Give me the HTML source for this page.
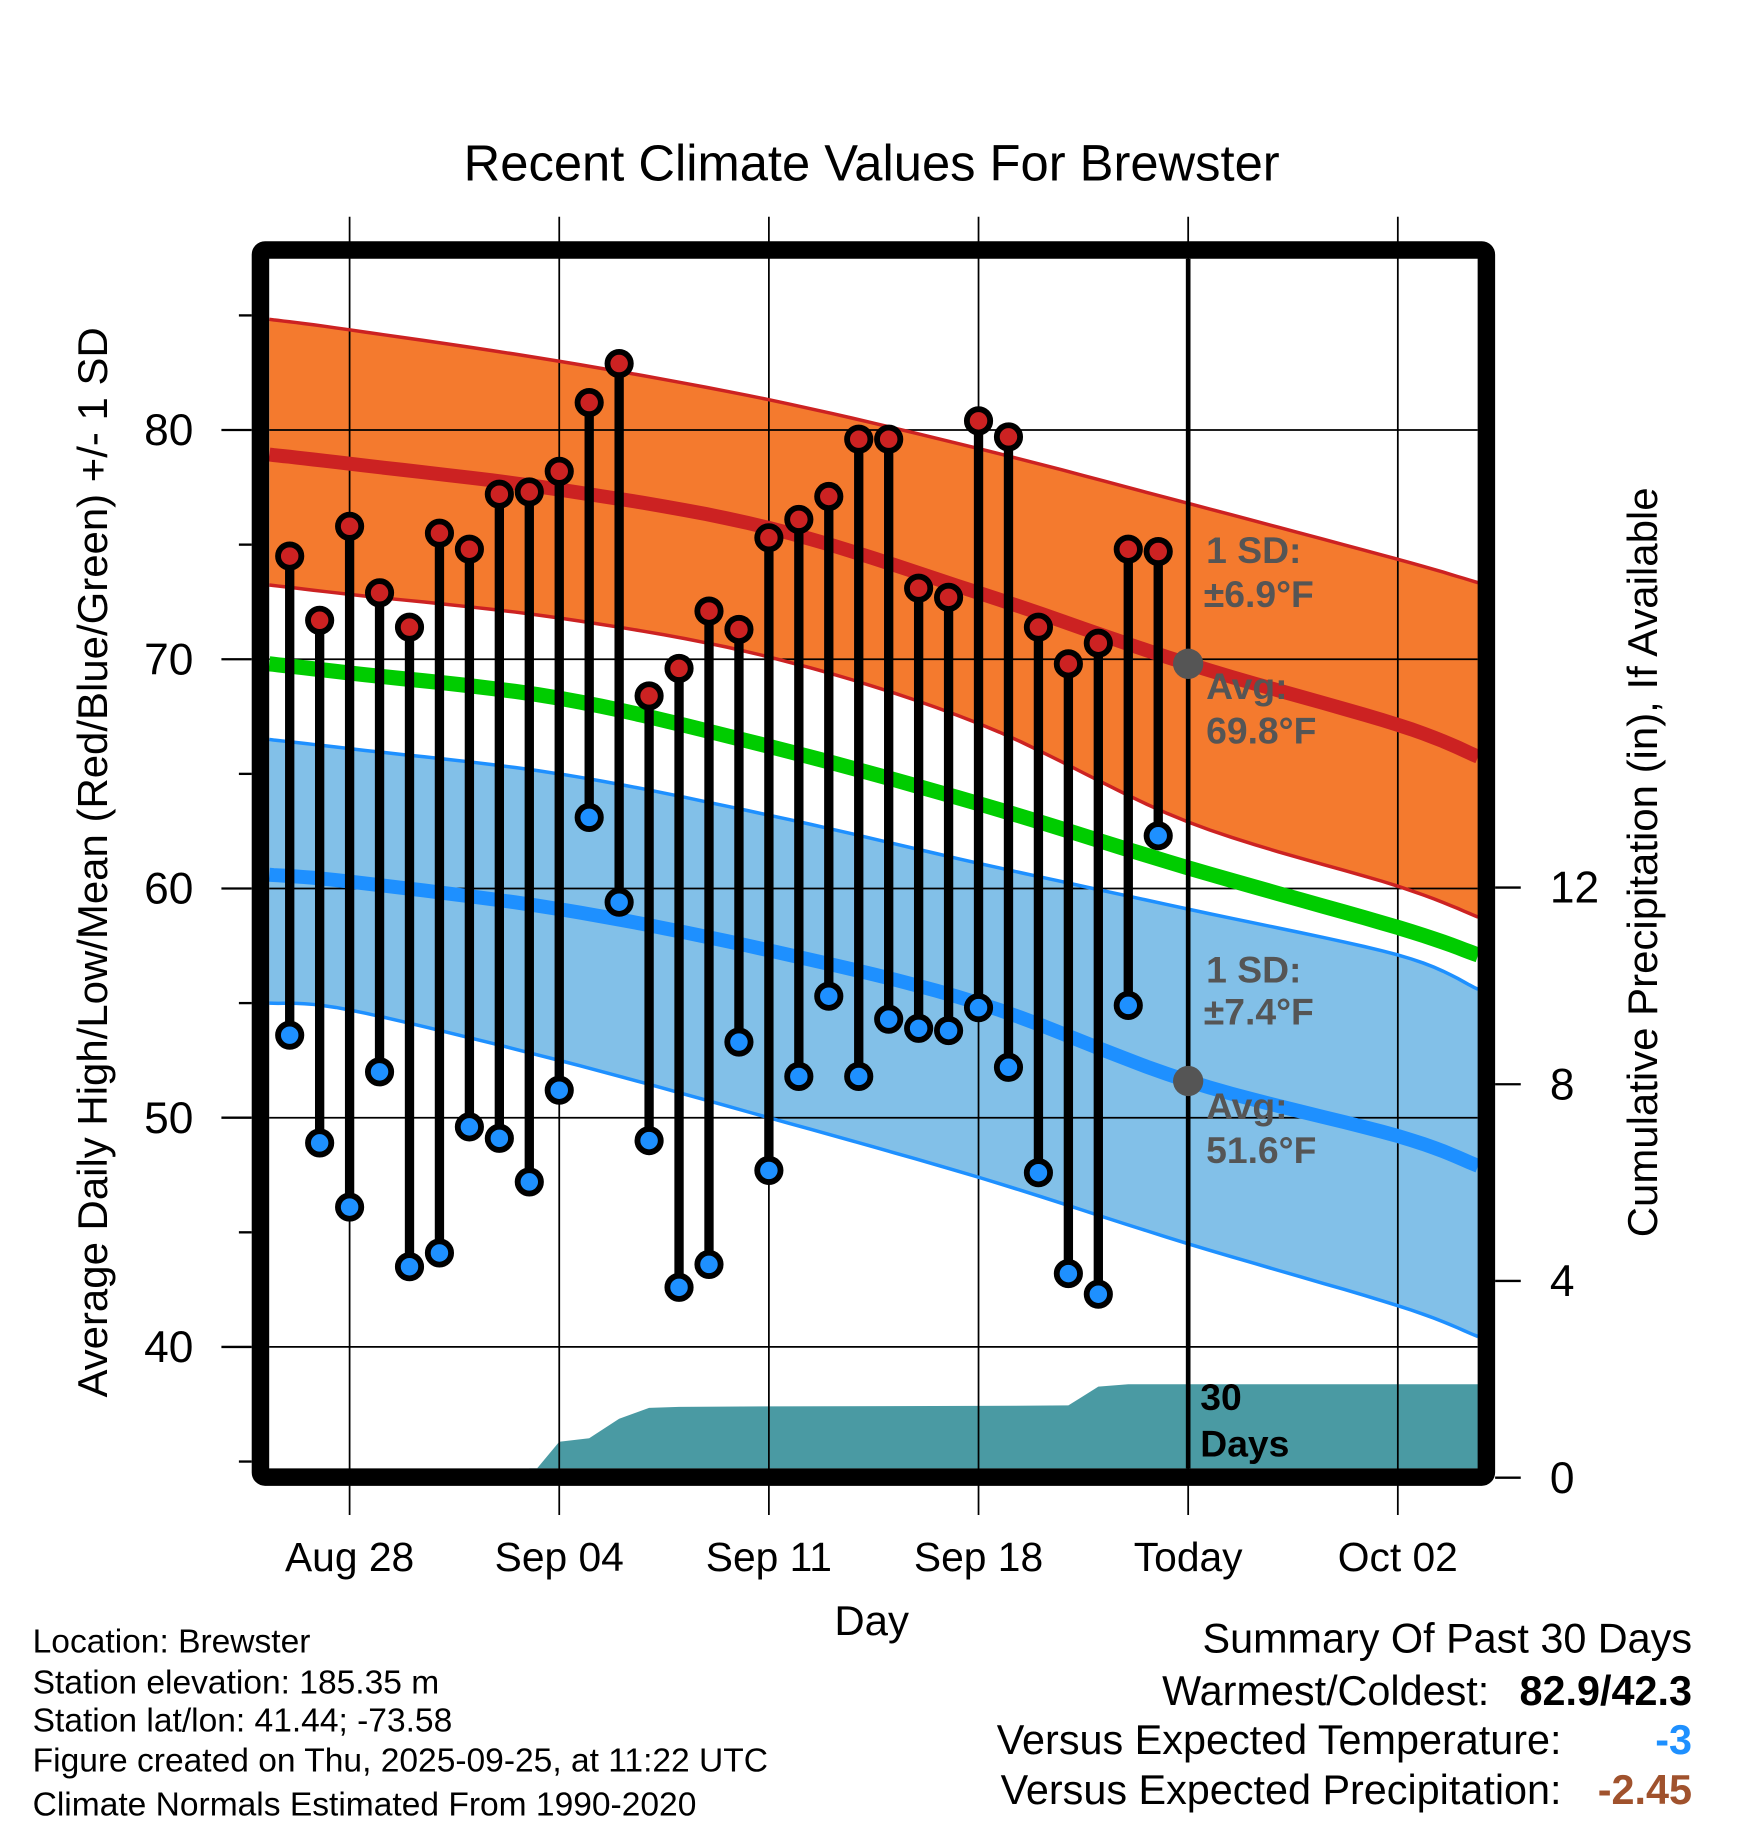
<!DOCTYPE html>
<html><head><meta charset="utf-8"><style>
html,body{margin:0;padding:0;background:#fff;}
svg{display:block;font-family:"Liberation Sans",sans-serif;}
</style></head><body>
<svg id="chart" width="1748" height="1828" viewBox="0 0 1500 1568.6" preserveAspectRatio="none" xmlns="http://www.w3.org/2000/svg">
<text x="748" y="155" font-size="43.5" text-anchor="middle">Recent Climate Values For Brewster</text>
<g id="fills"></g><g id="grid"></g><g id="lines"></g><g id="marks"></g><g id="ann"></g>
<rect x="223.5" y="214.5" width="1052" height="1053" fill="none" stroke="#000" stroke-width="15" rx="4"/>
<g id="axes"></g>
<text x="748" y="1403" font-size="36" text-anchor="middle">Day</text>
<text transform="translate(92,740) rotate(-90)" font-size="36" text-anchor="middle">Average Daily High/Low/Mean (Red/Blue/Green) +/- 1 SD</text>
<text transform="translate(1422,740) rotate(-90)" font-size="36" text-anchor="middle">Cumulative Precipitation (in), If Available</text>
<g font-size="28.8">
<text x="28" y="1418">Location: Brewster</text>
<text x="28" y="1453">Station elevation: 185.35 m</text>
<text x="28" y="1486">Station lat/lon: 41.44; -73.58</text>
<text x="28" y="1520">Figure created on Thu, 2025-09-25, at 11:22 UTC</text>
<text x="28" y="1558">Climate Normals Estimated From 1990-2020</text>
</g>
<g font-size="35.5">
<text x="1452" y="1418" text-anchor="end">Summary Of Past 30 Days</text>
<text x="1278" y="1463" text-anchor="end">Warmest/Coldest:</text>
<text x="1452" y="1463" text-anchor="end" font-weight="bold">82.9/42.3</text>
<text x="1340" y="1505" text-anchor="end">Versus Expected Temperature:</text>
<text x="1452" y="1505" text-anchor="end" font-weight="bold" fill="#1e90ff">-3</text>
<text x="1340" y="1548" text-anchor="end">Versus Expected Precipitation:</text>
<text x="1452" y="1548" text-anchor="end" font-weight="bold" fill="#a0522d">-2.45</text>
</g>
</svg>
<script>
// Days are offsets from Aug 28
const normDays = [-2.68, 0, 7, 14, 21, 28, 35, 37.68];
const highUpper = [84.83, 84.37, 83.0, 81.32, 79.19, 76.8, 74.36, 73.34];
const highMean  = [78.93, 78.53, 77.4, 75.73, 72.9, 69.8, 67.14, 65.75];
const highLower = [73.24, 72.83, 71.8, 70.1, 67.2, 62.9, 60.1, 58.75];
const meanTemp  = [69.8, 69.4, 68.3, 66.2, 63.7, 60.9, 58.3, 57.1];
const lowUpper  = [66.5, 66.1, 65.0, 63.2, 61.1, 59.1, 57.1, 55.6];
const lowMean   = [60.6, 60.3, 59.1, 57.3, 55.0, 51.6, 49.2, 47.9];
const lowLower  = [55.0, 54.7, 52.5, 50.0, 47.4, 44.5, 41.8, 40.45];
const obsDays = [-2,-1,0,1,2,3,4,5,6,7,8,9,10,11,12,13,14,15,16,17,18,19,20,21,22,23,24,25,26,27];
const obsHigh = [74.5,71.7,75.8,72.9,71.4,75.5,74.8,77.2,77.3,78.2,81.2,82.9,68.4,69.6,72.1,71.3,75.3,76.1,77.1,79.6,79.6,73.1,72.7,80.4,79.7,71.4,69.8,70.7,74.8,74.7];
const obsLow  = [53.6,48.9,46.1,52.0,43.5,44.1,49.6,49.1,47.2,51.2,63.1,59.4,49.0,42.6,43.6,53.3,47.7,51.8,55.3,51.8,54.3,53.9,53.8,54.8,52.2,47.6,43.2,42.3,54.9,62.3];
const precipDays = [6,7,8,9,10,11,14,21,24,25,26,27,37.68];
const precipCum  = [0,0.73,0.8,1.2,1.42,1.44,1.45,1.46,1.47,1.85,1.9,1.9,1.9];
const xTickDays = [0,7,14,21,28,35];
const xTickLabels = ["Aug 28","Sep 04","Sep 11","Sep 18","Today","Oct 02"];
const yTicks = [40,50,60,70,80];
const yMinor = [35,45,55,65,75,85];
const y2Ticks = [0,4,8,12];

const NS="http://www.w3.org/2000/svg";
const X0=231,X1=1268,Y0=222,Y1=1260;
const xs=d=>300+d*25.7;
const ys=v=>369-(v-80)*19.67;
const yp=p=>1268-p*42.2;
function mk(tag,attrs,parent){const e=document.createElementNS(NS,tag);for(const k in attrs)e.setAttribute(k,attrs[k]);document.getElementById(parent).appendChild(e);return e;}
function pts(days,vals,f){return days.map((d,i)=>xs(d).toFixed(1)+","+f(vals[i]).toFixed(1));}
// smooth curve sampling (Catmull-Rom through data points)
function smooth(days,vals){
 const P=days.map((d,i)=>[xs(d),ys(vals[i])]);const out=[];
 for(let i=0;i<P.length-1;i++){
  const p0=P[Math.max(0,i-1)],p1=P[i],p2=P[i+1],p3=P[Math.min(P.length-1,i+2)];
  for(let t=0;t<1;t+=0.1){const t2=t*t,t3=t2*t;
   const c=k=>0.5*((2*p1[k])+(-p0[k]+p2[k])*t+(2*p0[k]-5*p1[k]+4*p2[k]-p3[k])*t2+(-p0[k]+3*p1[k]-3*p2[k]+p3[k])*t3);
   out.push(c(0).toFixed(1)+","+c(1).toFixed(1));}
 }
 const L=P[P.length-1];out.push(L[0].toFixed(1)+","+L[1].toFixed(1));return out;
}

let e;
e=mk('polygon',{points:smooth(normDays,highUpper).concat(smooth(normDays,highLower).reverse()).join(' '),fill:'#f47a2e'},'fills');


e=mk('polygon',{points:smooth(normDays,lowUpper).concat(smooth(normDays,lowLower).reverse()).join(' '),fill:'#82c0e8'},'fills');


const pp=pts(precipDays,precipCum,yp);
e=mk('polygon',{points:[xs(precipDays[0]).toFixed(1)+","+Y1].concat(pp).concat([xs(precipDays[precipDays.length-1]).toFixed(1)+","+Y1]).join(' '),fill:'#4a9aa3'},'fills');



yTicks.forEach(v=>{e=mk('line',{x1:X0,x2:X1,y1:ys(v),y2:ys(v),stroke:'#000','stroke-width':1.5},'grid');

});
xTickDays.forEach(d=>{e=mk('line',{x1:xs(d),x2:xs(d),y1:186,y2:1300,stroke:'#000','stroke-width':1.5},'grid');

});

function pl(vals,color,w,name){e=mk('polyline',{points:smooth(normDays,vals).join(' '),fill:'none',stroke:color,'stroke-width':w},'lines');

}
pl(highUpper,'#cc2222',3,'high-upper-line');
pl(highLower,'#cc2222',3,'high-lower-line');
pl(highMean,'#cc2222',12,'high-mean-line');
pl(meanTemp,'#00cc00',13,'mean-temp-line');
pl(lowUpper,'#1e90ff',3,'low-upper-line');
pl(lowLower,'#1e90ff',3,'low-lower-line');
pl(lowMean,'#1e90ff',12,'low-mean-line');
e=mk('line',{x1:xs(28),x2:xs(28),y1:Y0,y2:Y1,stroke:'#000','stroke-width':4},'lines');



obsDays.forEach((d,i)=>{
 const x=xs(d);
 e=mk('line',{x1:x,x2:x,y1:ys(obsHigh[i]),y2:ys(obsLow[i]),stroke:'#000','stroke-width':8},'marks');
 
 
 e=mk('circle',{cx:x,cy:ys(obsHigh[i]),r:10,fill:'#cc2222',stroke:'#000','stroke-width':5},'marks');
 
 
 e=mk('circle',{cx:x,cy:ys(obsLow[i]),r:10,fill:'#1e90ff',stroke:'#000','stroke-width':5},'marks');
 
 
});

e=mk('circle',{cx:xs(28),cy:ys(69.8),r:13,fill:'#555'},'ann');


e=mk('circle',{cx:xs(28),cy:ys(51.6),r:13,fill:'#555'},'ann');


const ann=[["1 SD:",1035,483,'#555'],["±6.9°F",1033,521,'#555'],["Avg:",1035,600,'#555'],["69.8°F",1035,638,'#555'],
["1 SD:",1035,843,'#555'],["±7.4°F",1033,879,'#555'],["Avg:",1035,960,'#555'],["51.6°F",1035,998,'#555'],
["30",1030,1210,'#000'],["Days",1030,1250,'#000']];
ann.forEach(a=>{e=mk('text',{x:a[1],y:a[2],'font-size':32,'font-weight':'bold',fill:a[3]},'ann');e.textContent=a[0];

});

yTicks.forEach(v=>{
 e=mk('line',{x1:190,x2:216,y1:ys(v),y2:ys(v),stroke:'#000','stroke-width':2},'axes');
 
 
 e=mk('text',{x:166,y:ys(v)+13,'font-size':38,'text-anchor':'end'},'axes');e.textContent=v;
 
 
});
yMinor.forEach(v=>{e=mk('line',{x1:205,x2:216,y1:ys(v),y2:ys(v),stroke:'#000','stroke-width':2},'axes');
 
 });
y2Ticks.forEach(p=>{
 e=mk('line',{x1:1283,x2:1305,y1:yp(p),y2:yp(p),stroke:'#000','stroke-width':2},'axes');
 
 
 e=mk('text',{x:1330,y:yp(p)+13,'font-size':38},'axes');e.textContent=p;
 
 
});
xTickDays.forEach((d,i)=>{
 e=mk('text',{x:xs(d),y:1348,'font-size':35,'text-anchor':'middle'},'axes');e.textContent=xTickLabels[i];
 
 
});
</script>
</body></html>
